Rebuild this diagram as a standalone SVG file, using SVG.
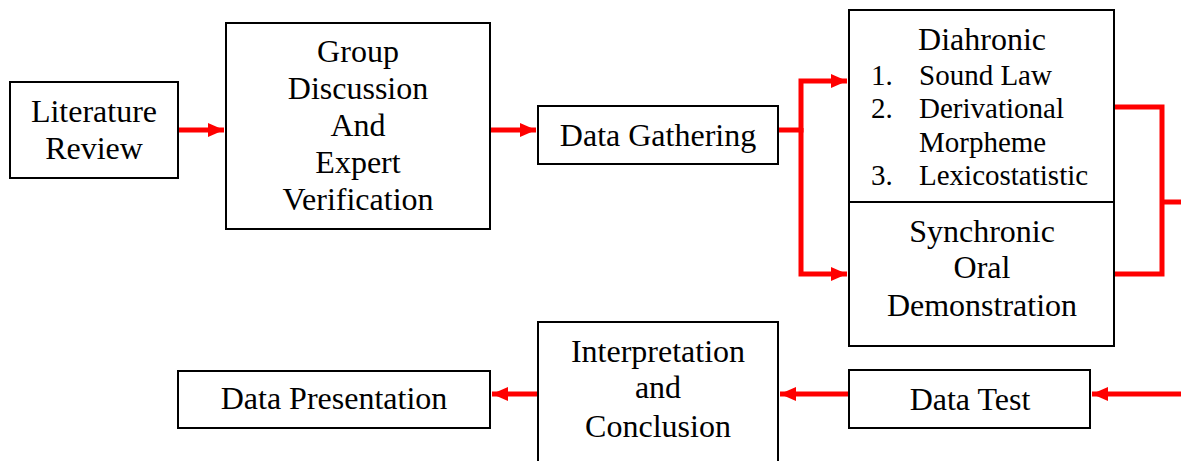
<svg xmlns="http://www.w3.org/2000/svg" width="1181" height="461" viewBox="0 0 1181 461">
<style>
.box{fill:#fff;stroke:#000;stroke-width:2}
.t{font-family:"Liberation Serif","Times New Roman",serif;font-size:32px;fill:#000;text-anchor:middle}
.s{font-family:"Liberation Serif","Times New Roman",serif;font-size:29px;fill:#000}
.c{fill:none;stroke:#ff0000;stroke-width:5;stroke-linejoin:miter}
</style>
<defs>
<marker id="ah" markerUnits="userSpaceOnUse" markerWidth="17" markerHeight="15" refX="16" refY="7" orient="auto">
<path d="M0,0 L16,7 L0,14 z" fill="#ff0000"/>
</marker>
</defs>
<rect width="1181" height="461" fill="#fff"/>
<g id="connectors">
<path class="c" d="M178,130 H224" marker-end="url(#ah)"/>
<path class="c" d="M490,130 H536" marker-end="url(#ah)"/>
<path class="c" d="M778,130 H801 V81 H847" marker-end="url(#ah)"/>
<path class="c" d="M801,128 V274 H847" marker-end="url(#ah)"/>
<path class="c" d="M1114,107 H1162 V274 H1114"/>
<path class="c" d="M1162,202 H1181"/>
<path class="c" d="M1181,394 H1092" marker-end="url(#ah)"/>
<path class="c" d="M849,394 H780" marker-end="url(#ah)"/>
<path class="c" d="M538,394 H492" marker-end="url(#ah)"/>
</g>
<g id="literature-review">
<rect class="box" x="10" y="82" width="168" height="96"/>
<text class="t" x="94" y="122">Literature</text>
<text class="t" x="94" y="159">Review</text>
</g>
<g id="group-discussion">
<rect class="box" x="226" y="23" width="264" height="206"/>
<text class="t" x="358" y="62">Group</text>
<text class="t" x="358" y="99">Discussion</text>
<text class="t" x="358" y="136">And</text>
<text class="t" x="358" y="173">Expert</text>
<text class="t" x="358" y="210">Verification</text>
</g>
<g id="data-gathering">
<rect class="box" x="538" y="106" width="240" height="58"/>
<text class="t" x="658" y="146">Data Gathering</text>
</g>
<g id="diahronic">
<rect class="box" x="849" y="10" width="265" height="192"/>
<text class="t" x="982" y="50">Diahronic</text>
<text class="s" x="871" y="85">1.</text>
<text class="s" x="919" y="85">Sound Law</text>
<text class="s" x="871" y="118">2.</text>
<text class="s" x="919" y="118">Derivational</text>
<text class="s" x="919" y="152">Morpheme</text>
<text class="s" x="871" y="185">3.</text>
<text class="s" x="919" y="185">Lexicostatistic</text>
</g>
<g id="synchronic">
<rect class="box" x="849" y="202" width="265" height="144"/>
<text class="t" x="982" y="242">Synchronic</text>
<text class="t" x="982" y="278">Oral</text>
<text class="t" x="982" y="316">Demonstration</text>
</g>
<g id="data-test">
<rect class="box" x="849" y="370" width="241" height="58"/>
<text class="t" x="970" y="410">Data Test</text>
</g>
<g id="interpretation">
<rect class="box" x="538" y="322" width="240" height="150"/>
<text class="t" x="658" y="362">Interpretation</text>
<text class="t" x="658" y="398">and</text>
<text class="t" x="658" y="437">Conclusion</text>
</g>
<g id="data-presentation">
<rect class="box" x="178" y="371" width="312" height="57"/>
<text class="t" x="334" y="409">Data Presentation</text>
</g>
</svg>
